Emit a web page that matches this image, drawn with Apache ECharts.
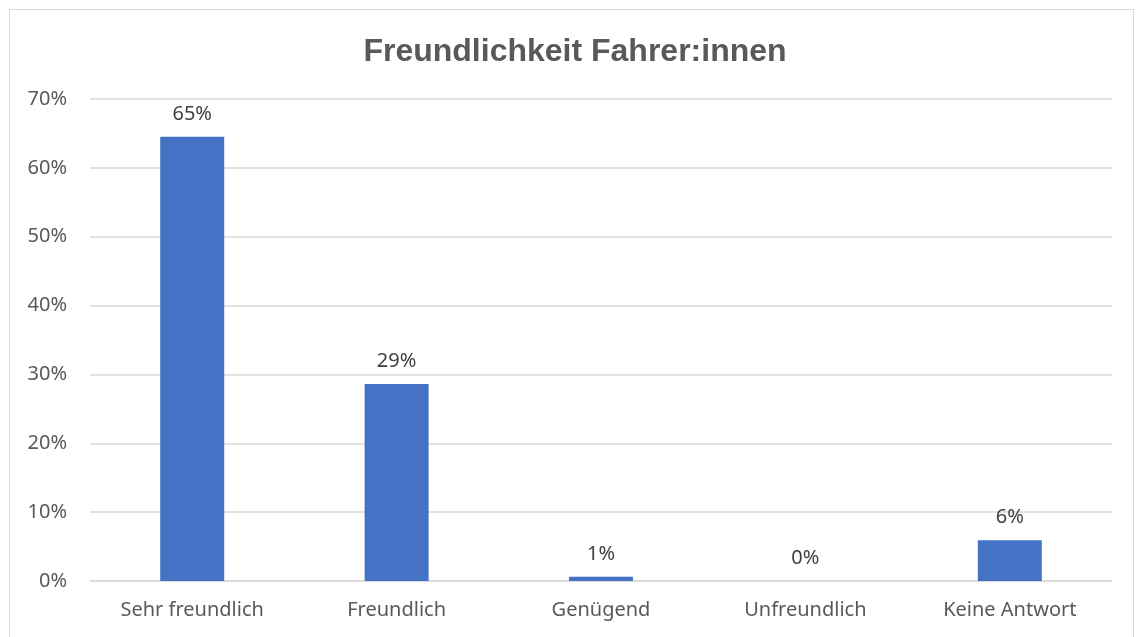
<!DOCTYPE html>
<html>
<head>
<meta charset="utf-8">
<script src="https://cdn.jsdelivr.net/npm/echarts@6/dist/echarts.min.js"></script>
<style>
    html, body { margin: 0; padding: 0; background: #fff; }
    #frame { position: absolute; left: 9px; top: 9px; width: 1125px; height: 640px; border: 1px solid #d9d9d9; box-sizing: border-box; }
    #chart { position: absolute; left: 0; top: 0; width: 1136px; height: 637px; }
</style>
</head>
<body>
<div id="frame"></div>
<div id="chart"></div>
<script>
// Chart data
const categories = ['Sehr freundlich', 'Freundlich', 'Genügend', 'Unfreundlich', 'Keine Antwort'];
const shares = [64.5, 28.6, 0.6, 0, 5.9];
const yTicks = [0, 10, 20, 30, 40, 50, 60, 70];

const textColor = '#595959';
const fontName = '"Noto Sans", sans-serif';

const chart = echarts.init(document.getElementById('chart'));
chart.setOption({
    backgroundColor: 'transparent',
    animation: false,
    title: {
        text: 'Freundlichkeit Fahrer:innen',
        left: 570,
        top: 31,
        textAlign: 'center',
        textStyle: { color: textColor, fontSize: 32, fontWeight: 'bold', fontFamily: '"Liberation Sans", Arial, sans-serif' }
    },
    grid: { left: 90, right: 24, top: 99, bottom: 56 },
    xAxis: {
        type: 'category',
        data: categories,
        axisLine: { show: true, lineStyle: { color: '#d9d9d9', width: 1.5 } },
        axisTick: { show: false },
        axisLabel: { color: textColor, fontSize: 20, fontFamily: fontName, margin: 19 }
    },
    yAxis: {
        type: 'value',
        min: yTicks[0],
        max: yTicks[yTicks.length - 1],
        interval: 10,
        axisLine: { show: false },
        axisTick: { show: false },
        splitLine: { lineStyle: { color: '#d9d9d9', width: 1.5 } },
        axisLabel: {
            color: textColor, fontSize: 20, fontFamily: fontName, margin: 23,
            formatter: v => v + '%'
        }
    },
    series: [{
        type: 'bar',
        data: shares,
        barWidth: 64,
        itemStyle: { color: '#4472c4' },
        label: {
            show: true,
            position: 'top',
            distance: 13,
            color: '#404040',
            fontSize: 20,
            fontFamily: fontName,
            formatter: p => Math.round(p.value) + '%'
        }
    }]
});
</script>
</body>
</html>
